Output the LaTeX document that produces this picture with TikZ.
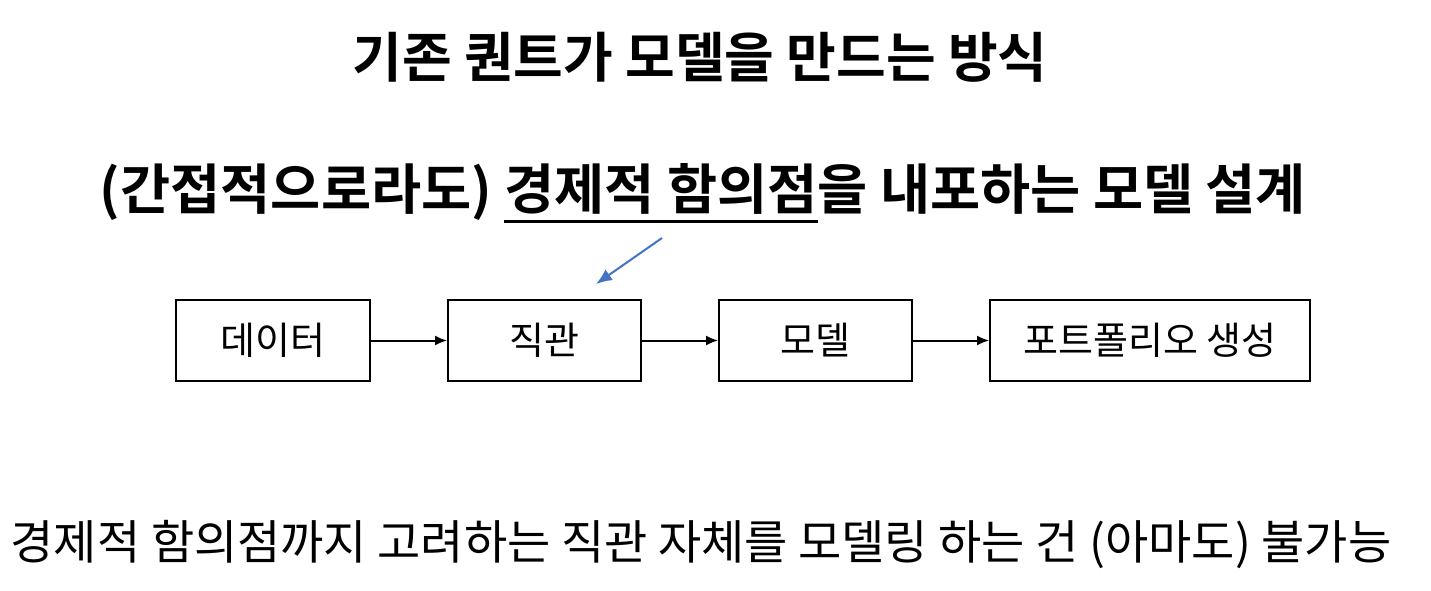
\documentclass[tikz,border=0pt]{standalone}
\usepackage{fontspec}
\setmainfont{Noto Sans CJK KR}
\newfontfamily\krbold{Noto Sans CJK KR Bold}
\usetikzlibrary{arrows.meta}
\newcommand\myul[1]{\setbox0\hbox{#1}\rlap{\rule[-14pt]{\wd0}{3pt}}\box0}
\definecolor{hintblue}{RGB}{68,114,196}
\tikzset{
  box/.style={draw=black, line width=1.8pt, minimum height=81pt, inner sep=0pt, font=\fontsize{38}{44}\selectfont},
  flow/.style={draw=black, line width=2pt, -{Latex[length=12pt,width=10pt]}},
  hint/.style={draw=hintblue, line width=2pt, -{Latex[length=16pt,width=13pt]}},
}
\begin{document}
\begin{tikzpicture}[x=1pt,y=-1pt]
\useasboundingbox (0,0) rectangle (1431,591);
\node[font=\krbold\fontsize{54}{62}\selectfont] (title) at (700,57) {기존 퀀트가 모델을 만드는 방식};
\node[font=\krbold\fontsize{54.5}{62}\selectfont] (sub) at (703,193) {(간접적으로라도) \myul{경제적 함의점}을 내포하는 모델 설계};
\node[box, minimum width=194pt] (data) at (273,340.5) {데이터};
\node[box, minimum width=193pt] (intu) at (544.5,340.5) {직관};
\node[box, minimum width=193pt] (model) at (815.5,340.5) {모델};
\node[box, minimum width=320pt] (port) at (1150,340.5) {포트폴리오 생성};
\draw[flow] (data) -- (intu);
\draw[flow] (intu) -- (model);
\draw[flow] (model) -- (port);
\coordinate (hs) at (662,238);
\coordinate (he) at (596,284);
\draw[hint] (hs) -- (he);
\node[font=\fontsize{47}{54}\selectfont] (bottom) at (701,545) {경제적 함의점까지 고려하는 직관 자체를 모델링 하는 건 (아마도) 불가능};
\end{tikzpicture}
\end{document}
